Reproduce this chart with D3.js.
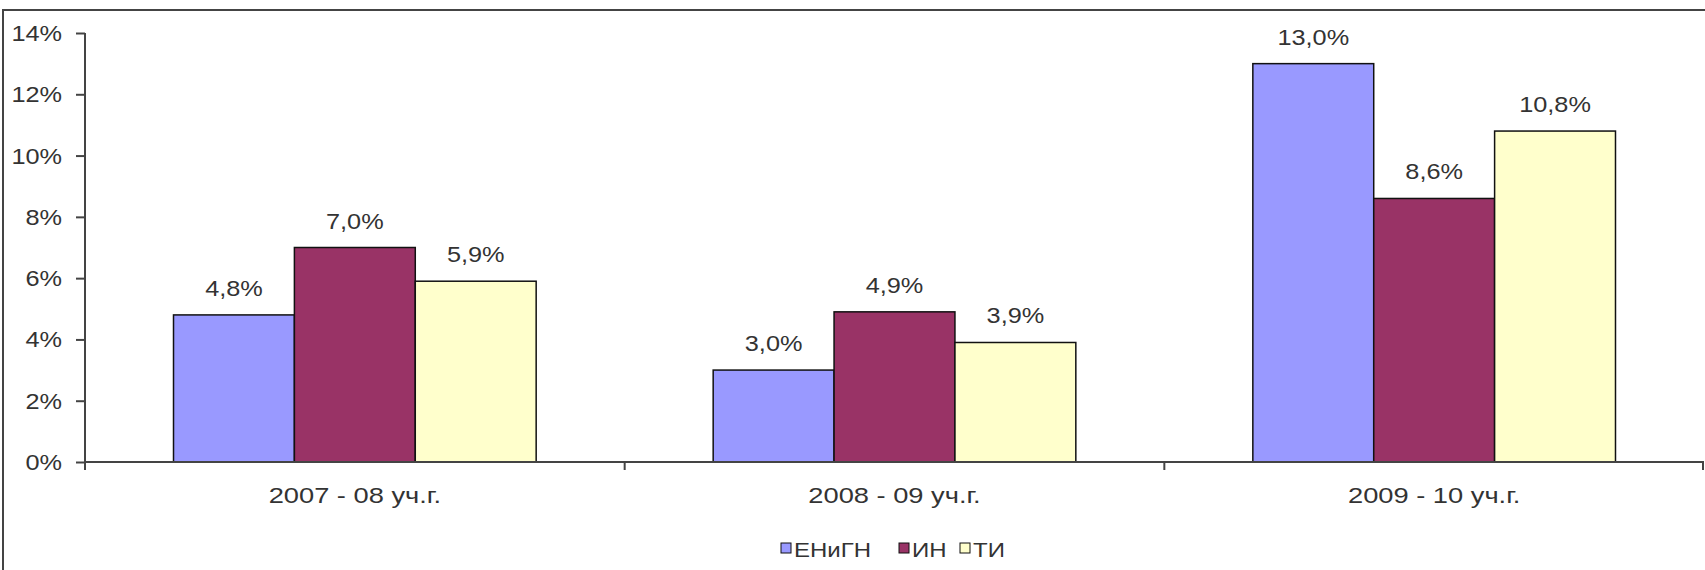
<!DOCTYPE html>
<html><head><meta charset="utf-8">
<script src="https://cdn.jsdelivr.net/npm/d3@7"></script>
<style>html,body{margin:0;padding:0;background:#fff;overflow:hidden}</style>
</head><body>
<svg id="c" width="1705" height="570"></svg>
<script>
const categories = ["2007 - 08 уч.г.", "2008 - 09 уч.г.", "2009 - 10 уч.г."];
const seriesNames = ["ЕНиГН", "ИН", "ТИ"];
const seriesColors = ["#9999FF", "#993366", "#FFFFCC"];
const valuesENiGN = [4.8, 3.0, 13.0];
const valuesIN = [7.0, 4.9, 8.6];
const valuesTI = [5.9, 3.9, 10.8];
const yTicks = [0, 2, 4, 6, 8, 10, 12, 14];

(function () {
const seriesValues = [valuesENiGN, valuesIN, valuesTI];
const svg = d3.select("#c");
const FONT = "'Liberation Sans', Arial, sans-serif";
const SX = 1.15;

const pLeft = 85, pRight = 1704, pTop = 33, pBottom = 462;
const x0 = d3.scaleBand().domain(categories).range([pLeft, pRight]).paddingInner(0.328).paddingOuter(0.164);
const x1 = d3.scaleBand().domain(seriesNames).range([0, x0.bandwidth()]);
const y = d3.scaleLinear().domain([0, 14]).range([pBottom, pTop]);

// outer frame
svg.append("rect").attr("x", 3).attr("y", 10).attr("width", 1720).attr("height", 600)
  .attr("fill", "none").attr("stroke", "#444").attr("stroke-width", 2);

function txt(g, x, yy, s, size, anchor, sx) {
  g.append("text").attr("transform", `translate(${x},${yy}) scale(${sx},1)`)
    .attr("text-anchor", anchor).attr("font-family", FONT).attr("font-size", size)
    .attr("fill", "#333").text(s);
}

// bars
const groups = svg.append("g").selectAll("g").data(categories).join("g")
  .attr("transform", d => `translate(${x0(d)},0)`);
groups.each(function(cat, ci) {
  const g = d3.select(this);
  seriesNames.forEach((s, si) => {
    const v = seriesValues[si][ci];
    g.append("rect").attr("x", x1(s)).attr("y", y(v))
      .attr("width", x1.bandwidth()).attr("height", y(0) - y(v))
      .attr("fill", seriesColors[si]).attr("stroke", "#111").attr("stroke-width", 1.5);
    txt(g, x1(s) + x1.bandwidth() / 2, y(v) - 19, v.toFixed(1).replace(".", ",") + "%", 22, "middle", SX);
  });
});

// y axis
const yAxis = svg.append("g").attr("transform", `translate(${pLeft},0)`)
  .call(d3.axisLeft(y).tickValues(yTicks).tickSize(9).tickFormat(""));
yAxis.select(".domain").attr("stroke", "#444").attr("stroke-width", 2).attr("d", `M0,${pTop}V${pBottom}`);
yAxis.selectAll(".tick line").attr("stroke", "#444").attr("stroke-width", 2);
yTicks.forEach(t => txt(svg, 62, y(t) + 8, t + "%", 22, "end", SX));

// x axis
const xAxis = svg.append("g").attr("transform", `translate(0,${pBottom})`)
  .call(d3.axisBottom(x0).tickSize(0).tickFormat(""));
xAxis.select(".domain").attr("stroke", "#444").attr("stroke-width", 2).attr("d", `M${pLeft},0H${pRight}`);
const bounds = [pLeft, ...categories.map(c => x0(c) + x0.bandwidth() + x0.step() * 0.164)];
bounds.forEach(b => xAxis.append("line").attr("x1", Math.min(b, 1703)).attr("x2", Math.min(b, 1703)).attr("y1", 0).attr("y2", 8)
  .attr("stroke", "#444").attr("stroke-width", 2));
categories.forEach(c => txt(svg, x0(c) + x0.bandwidth() / 2, 503, c, 22, "middle", 1.24));

// legend
const legendX = [781, 899, 960];
const leg = svg.append("g");
seriesNames.forEach((s, i) => {
  leg.append("rect").attr("x", legendX[i]).attr("y", 543).attr("width", 10).attr("height", 10)
    .attr("fill", seriesColors[i]).attr("stroke", "#111").attr("stroke-width", 1);
  txt(leg, legendX[i] + 13, 557, s, 20, "start", 1.2);
});
})();
</script>
</body></html>
